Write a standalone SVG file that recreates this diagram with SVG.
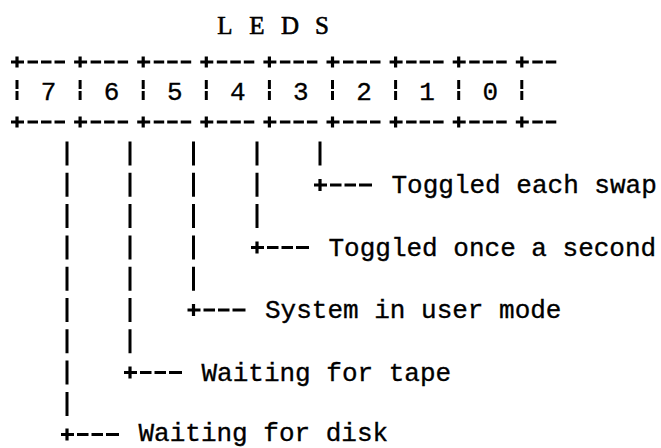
<svg xmlns="http://www.w3.org/2000/svg" width="661" height="448" viewBox="0 0 661 448">
  <style>
    .t { font-family: "Liberation Mono", "DejaVu Sans Mono", monospace; fill: #000; }
    .lbl { font-size: 26px; stroke: #000; stroke-width: 0.35px; }
    .dig { font-size: 26px; text-anchor: middle; stroke: #000; stroke-width: 0.3px; }
    .ttl { font-size: 25px; text-anchor: middle; font-family: "Liberation Serif", serif; fill: #000; stroke: #000; stroke-width: 0.6px; }
    .ln { stroke: #000; stroke-width: 3.2; fill: none; }
    .border { stroke-dasharray: 13 3.5 10.5 3 10.5 3 10.5 9.1; }
    .bar { stroke-dasharray: 9 2; stroke-width: 3; }
    .pipe { stroke-dasharray: 24 7.3; stroke-width: 3; }
    .branch { stroke-dasharray: 13 3 11.5 3 11.5 3 13; }
  </style>
  <rect width="661" height="448" fill="#fff"/>

  <g id="register">
    <g id="title">
      <text class="ttl" x="225" y="34">L</text>
      <text class="ttl" x="257" y="34">E</text>
      <text class="ttl" x="290" y="34">D</text>
      <text class="ttl" x="322" y="34">S</text>
    </g>
    <g id="border-top">
      <line class="ln border" x1="11" y1="62" x2="557" y2="62"/>
      <path class="ln" d="M17 56.5v11M80.1 56.5v11M143.2 56.5v11M206.3 56.5v11M269.4 56.5v11M332.5 56.5v11M395.6 56.5v11M458.7 56.5v11M521.8 56.5v11"/>
    </g>
    <g id="cells">
      <path class="ln bar" d="M17 80v20M80.1 80v20M143.2 80v20M206.3 80v20M269.4 80v20M332.5 80v20M395.6 80v20M458.7 80v20M521.8 80v20"/>
      <text class="t dig" x="48.5" y="100">7</text>
      <text class="t dig" x="111.6" y="100">6</text>
      <text class="t dig" x="174.7" y="100">5</text>
      <text class="t dig" x="237.8" y="100">4</text>
      <text class="t dig" x="300.9" y="100">3</text>
      <text class="t dig" x="364" y="100">2</text>
      <text class="t dig" x="427.1" y="100">1</text>
      <text class="t dig" x="490.2" y="100">0</text>
    </g>
    <g id="border-bottom">
      <line class="ln border" x1="11" y1="122" x2="557" y2="122"/>
      <path class="ln" d="M17 116.5v11M80.1 116.5v11M143.2 116.5v11M206.3 116.5v11M269.4 116.5v11M332.5 116.5v11M395.6 116.5v11M458.7 116.5v11M521.8 116.5v11"/>
    </g>
  </g>

  <g id="connectors">
    <line class="ln pipe" x1="320" y1="141.5" x2="320" y2="165.5"/>
    <line class="ln branch" x1="314" y1="185" x2="372" y2="185"/>
    <path class="ln" d="M320 179v12"/>

    <line class="ln pipe" x1="257" y1="141.5" x2="257" y2="228.1"/>
    <line class="ln branch" x1="251" y1="247.5" x2="309" y2="247.5"/>
    <path class="ln" d="M257 241.5v12"/>

    <line class="ln pipe" x1="193.5" y1="141.5" x2="193.5" y2="290.7"/>
    <line class="ln branch" x1="187.5" y1="310" x2="245.5" y2="310"/>
    <path class="ln" d="M193.5 304v12"/>

    <line class="ln pipe" x1="130" y1="141.5" x2="130" y2="353.3"/>
    <line class="ln branch" x1="124" y1="372.5" x2="182" y2="372.5"/>
    <path class="ln" d="M130 366.5v12"/>

    <line class="ln pipe" x1="67" y1="141.5" x2="67" y2="415.9"/>
    <line class="ln branch" x1="61" y1="434.5" x2="119" y2="434.5"/>
    <path class="ln" d="M67 428.5v12"/>
  </g>

  <g id="label-bit3"><text class="t lbl" x="391.5" y="193">Toggled each swap</text></g>
  <g id="label-bit4"><text class="t lbl" x="328.5" y="255.5">Toggled once a second</text></g>
  <g id="label-bit5"><text class="t lbl" x="265" y="318">System in user mode</text></g>
  <g id="label-bit6"><text class="t lbl" x="201.5" y="381">Waiting for tape</text></g>
  <g id="label-bit7"><text class="t lbl" x="138.5" y="441">Waiting for disk</text></g>
</svg>
